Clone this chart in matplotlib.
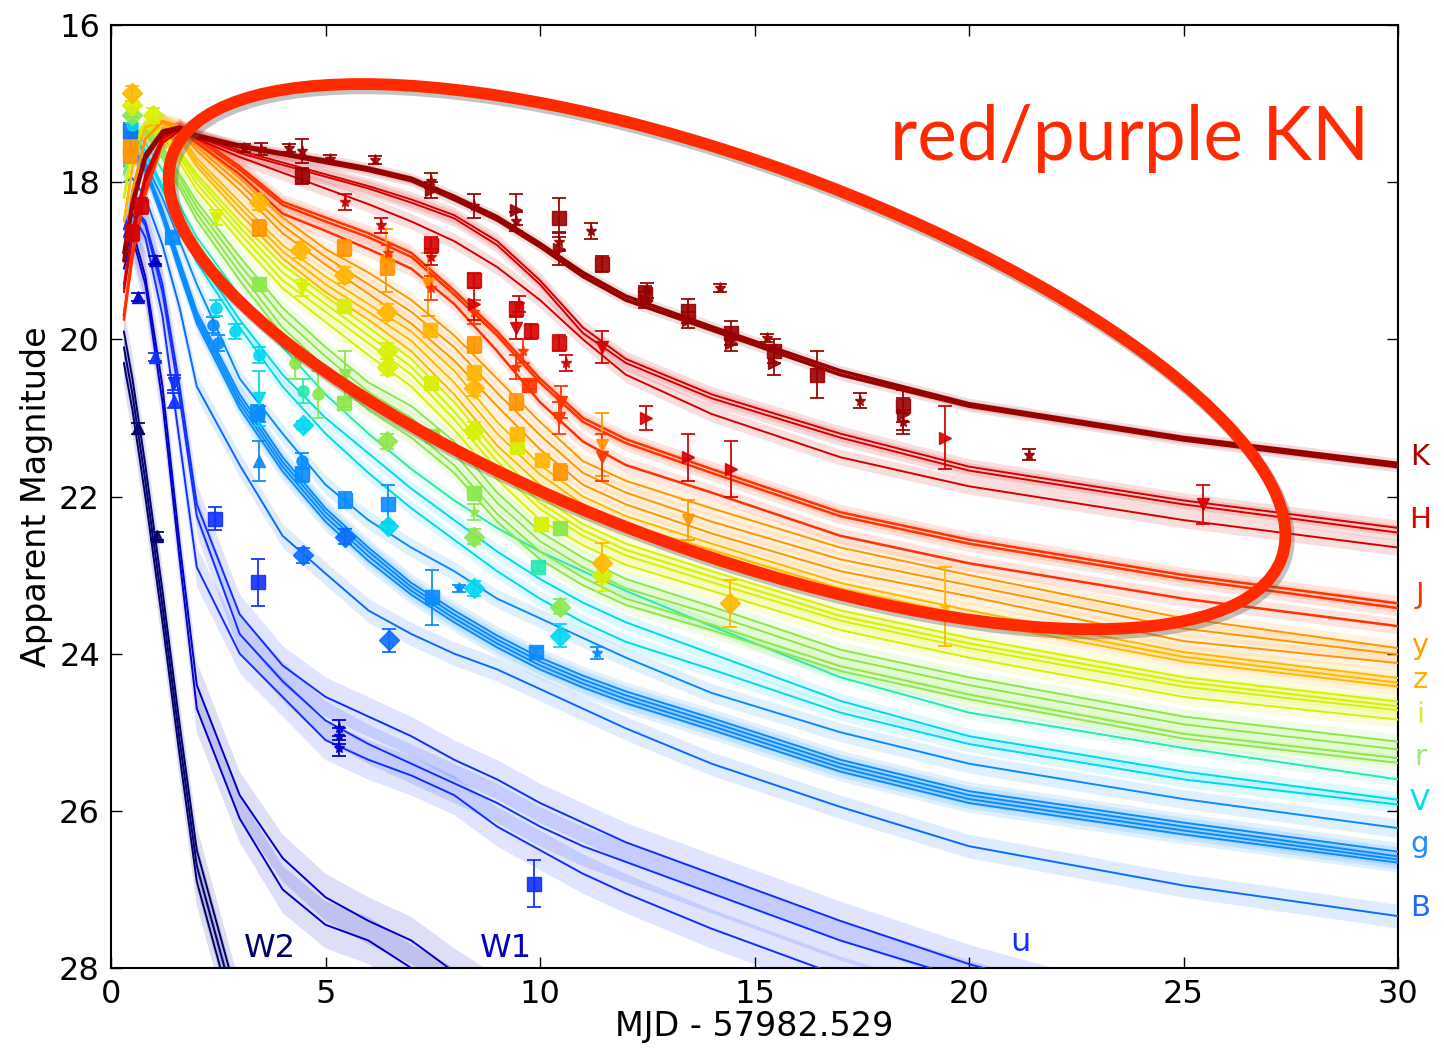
import matplotlib
matplotlib.use("Agg")
import matplotlib.pyplot as plt
import matplotlib.transforms as mtransforms
from matplotlib.patches import Ellipse
import numpy as np

# -----------------------------
# model light curves (mag at T_GRID days)
# -----------------------------
T_GRID = [0.3, 0.5, 0.8, 1.2, 1.6, 2, 3, 4, 5, 6, 7, 8, 9, 10, 11, 12, 14, 17, 20, 25, 30]

K_MODELS = [
    [19.0, 18.3, 17.7, 17.38, 17.33, 17.43, 17.55, 17.65, 17.75, 17.85, 17.98, 18.22, 18.48, 18.82, 19.2, 19.5, 19.88, 20.45, 20.85, 21.28, 21.62],
    [18.9, 18.25, 17.65, 17.35, 17.3, 17.4, 17.53, 17.63, 17.72, 17.82, 17.95, 18.18, 18.44, 18.78, 19.15, 19.45, 19.84, 20.4, 20.82, 21.25, 21.58],
]
H_MODELS = [
    [19.3, 18.6, 17.9, 17.42, 17.3, 17.4, 17.6, 17.75, 17.9, 18.05, 18.22, 18.42, 18.75, 19.25, 19.85, 20.25, 20.7, 21.2, 21.62, 22.05, 22.40],
    [19.35, 18.65, 17.95, 17.45, 17.32, 17.42, 17.63, 17.78, 17.93, 18.08, 18.26, 18.46, 18.8, 19.3, 19.92, 20.3, 20.75, 21.25, 21.67, 22.1, 22.46],
    [19.4, 18.7, 18.0, 17.5, 17.35, 17.45, 17.68, 17.88, 18.08, 18.28, 18.5, 18.75, 19.08, 19.5, 20.0, 20.45, 20.95, 21.5, 21.87, 22.3, 22.65],
]
J_MODELS = [
    [19.7, 18.9, 18.1, 17.45, 17.28, 17.42, 17.8, 18.25, 18.45, 18.65, 18.9, 19.38, 19.9, 20.5, 21.0, 21.27, 21.65, 22.2, 22.55, 23.0, 23.36],
    [19.7, 18.9, 18.12, 17.47, 17.3, 17.45, 17.84, 18.29, 18.5, 18.7, 18.95, 19.43, 19.95, 20.55, 21.05, 21.32, 21.7, 22.25, 22.6, 23.05, 23.42],
    [19.75, 18.95, 18.15, 17.5, 17.33, 17.5, 17.9, 18.4, 18.62, 18.85, 19.1, 19.55, 20.15, 20.8, 21.3, 21.6, 21.95, 22.5, 22.85, 23.3, 23.65],
]
Y_MODELS = [
    [18.9, 18.1, 17.45, 17.22, 17.28, 17.5, 17.95, 18.45, 18.85, 19.15, 19.5, 19.95, 20.5, 21.05, 21.55, 21.8, 22.15, 22.65, 23.0, 23.55, 23.93],
    [18.9, 18.1, 17.45, 17.22, 17.3, 17.55, 18.02, 18.55, 18.95, 19.3, 19.65, 20.1, 20.68, 21.22, 21.7, 21.95, 22.32, 22.8, 23.13, 23.68, 24.01],
    [18.9, 18.1, 17.45, 17.24, 17.33, 17.6, 18.1, 18.65, 19.05, 19.42, 19.8, 20.27, 20.85, 21.4, 21.85, 22.1, 22.47, 22.95, 23.27, 23.84, 24.12],
]
Z_MODELS = [
    [18.5, 17.8, 17.3, 17.22, 17.38, 17.7, 18.25, 18.8, 19.2, 19.55, 19.9, 20.4, 21.05, 21.6, 22.0, 22.25, 22.6, 23.1, 23.45, 23.98, 24.31],
    [18.5, 17.8, 17.3, 17.23, 17.42, 17.75, 18.32, 18.88, 19.3, 19.65, 20.02, 20.55, 21.2, 21.72, 22.1, 22.35, 22.68, 23.17, 23.52, 24.04, 24.37],
    [18.5, 17.8, 17.3, 17.25, 17.46, 17.8, 18.4, 18.97, 19.4, 19.75, 20.15, 20.7, 21.35, 21.85, 22.2, 22.43, 22.75, 23.23, 23.58, 24.1, 24.42],
]
I_MODELS = [
    [18.2, 17.55, 17.25, 17.35, 17.6, 17.9, 18.5, 19.05, 19.45, 19.85, 20.25, 20.8, 21.45, 22.0, 22.35, 22.6, 22.95, 23.45, 23.8, 24.3, 24.61],
    [18.2, 17.55, 17.25, 17.37, 17.63, 17.95, 18.57, 19.15, 19.55, 19.95, 20.35, 20.92, 21.55, 22.08, 22.43, 22.68, 23.02, 23.52, 23.87, 24.36, 24.67],
    [18.2, 17.55, 17.27, 17.4, 17.68, 18.02, 18.65, 19.25, 19.65, 20.05, 20.45, 21.02, 21.65, 22.16, 22.5, 22.75, 23.09, 23.58, 23.93, 24.42, 24.72],
    [18.2, 17.57, 17.3, 17.45, 17.75, 18.1, 18.75, 19.35, 19.78, 20.2, 20.6, 21.15, 21.78, 22.3, 22.62, 22.87, 23.2, 23.7, 24.05, 24.55, 24.84],
]
R_MODELS = [
    [17.9, 17.4, 17.3, 17.55, 17.9, 18.25, 18.95, 19.6, 20.1, 20.55, 20.85, 21.3, 21.95, 22.45, 22.78, 23.05, 23.4, 23.95, 24.3, 24.8, 25.12],
    [17.9, 17.4, 17.32, 17.6, 17.95, 18.32, 19.05, 19.72, 20.22, 20.67, 21.0, 21.45, 22.08, 22.57, 22.9, 23.17, 23.5, 24.05, 24.4, 24.9, 25.22],
    [17.9, 17.42, 17.35, 17.65, 18.02, 18.4, 19.15, 19.85, 20.36, 20.8, 21.15, 21.6, 22.22, 22.7, 23.03, 23.3, 23.63, 24.16, 24.52, 25.02, 25.33],
    [17.9, 17.43, 17.38, 17.7, 18.08, 18.48, 19.25, 19.95, 20.45, 20.9, 21.25, 21.7, 22.32, 22.8, 23.13, 23.38, 23.7, 24.22, 24.58, 25.08, 25.39],
]
AQ_MODELS = [
    [17.6, 17.35, 17.5, 17.85, 18.3, 18.7, 19.45, 20.1, 20.7, 21.2, 21.65, 22.05, 22.4, 22.7, 22.95, 23.2, 23.65, 24.3, 24.75, 25.2, 25.6],
]
V_MODELS = [
    [17.5, 17.4, 17.6, 18.05, 18.5, 18.95, 19.75, 20.45, 21.0, 21.45, 21.9, 22.3, 22.7, 23.05, 23.35, 23.6, 24.0, 24.6, 25.05, 25.5, 25.86],
    [17.5, 17.42, 17.65, 18.1, 18.58, 19.02, 19.85, 20.6, 21.2, 21.7, 22.15, 22.55, 22.95, 23.3, 23.6, 23.85, 24.2, 24.75, 25.15, 25.6, 25.92],
]
G_MODELS = [
    [17.8, 17.6, 17.75, 18.2, 18.75, 19.3, 20.5, 21.2, 21.85, 22.3, 22.65, 22.95, 23.3, 23.55, 23.8, 24.05, 24.5, 25.0, 25.4, 25.85, 26.22],
    [17.75, 17.6, 17.8, 18.35, 19.0, 19.65, 20.7, 21.5, 22.15, 22.65, 23.1, 23.45, 23.77, 24.05, 24.28, 24.48, 24.82, 25.35, 25.75, 26.15, 26.52],
    [17.75, 17.6, 17.82, 18.38, 19.05, 19.7, 20.76, 21.56, 22.2, 22.7, 23.15, 23.5, 23.82, 24.1, 24.33, 24.53, 24.87, 25.4, 25.8, 26.2, 26.58],
    [17.75, 17.62, 17.84, 18.42, 19.1, 19.75, 20.82, 21.62, 22.26, 22.76, 23.2, 23.55, 23.87, 24.15, 24.38, 24.58, 24.92, 25.45, 25.85, 26.25, 26.62],
    [17.76, 17.63, 17.86, 18.46, 19.15, 19.8, 20.88, 21.68, 22.32, 22.82, 23.25, 23.6, 23.92, 24.2, 24.43, 24.63, 24.97, 25.5, 25.9, 26.3, 26.66],
]
B_MODELS = [
    [18.0, 17.95, 18.2, 18.8, 19.6, 20.6, 21.6, 22.5, 22.98, 23.45, 23.75, 24.0, 24.2, 24.45, 24.7, 24.95, 25.4, 25.95, 26.45, 26.95, 27.34],
]
U_MODELS = [
    [18.6, 18.3, 18.5, 19.3, 20.6, 22.1, 23.5, 24.15, 24.55, 24.8, 25.05, 25.35, 25.6, 25.9, 26.15, 26.4, 26.8, 27.4, 27.95, 28.7, 29.4],
    [18.6, 18.3, 18.55, 19.4, 20.75, 22.25, 23.75, 24.35, 24.85, 25.15, 25.4, 25.65, 25.9, 26.2, 26.45, 26.65, 27.05, 27.65, 28.15, 28.9, 29.5],
    [18.7, 18.4, 18.7, 19.7, 21.3, 22.9, 24.0, 24.55, 25.1, 25.35, 25.55, 25.8, 26.2, 26.5, 26.8, 27.05, 27.5, 28.1, 28.6, 29.3, 29.9],
]
W1_MODELS = [
    [19.0, 18.6, 19.2, 20.6, 22.6, 24.4, 25.8, 26.6, 27.1, 27.4, 27.65, 28.05, 28.4, 28.8, 29.1, 29.4, 30.0, 30.8, 31.5, 32.5, 33.5],
    [19.1, 18.7, 19.3, 20.8, 22.8, 24.7, 26.1, 27.0, 27.45, 27.65, 28.0, 28.3, 28.6, 29.0, 29.3, 29.6, 30.2, 31.0, 31.7, 32.7, 33.7],
]
W2_MODELS = [
    [19.9, 20.5, 21.6, 23.2, 24.9, 26.5, 28.5, 30.0, 31.0, 32.0, 33.0, 34.0, 35.0, 36.0, 37.0, 38.0, 39.0, 40.0, 41.0, 42.0, 43.0],
    [20.1, 20.7, 21.8, 23.4, 25.1, 26.7, 28.7, 30.2, 31.2, 32.2, 33.2, 34.2, 35.2, 36.2, 37.2, 38.2, 39.2, 40.2, 41.2, 42.2, 43.2],
    [20.3, 20.9, 22.0, 23.6, 25.3, 26.9, 28.9, 30.4, 31.4, 32.4, 33.4, 34.4, 35.4, 36.4, 37.4, 38.4, 39.4, 40.4, 41.4, 42.4, 43.4],
]

# -----------------------------
# photometry (t, mag, err, marker)
# -----------------------------
K_T = [4.45, 10.45, 11.45, 12.45, 13.45, 14.45, 15.45, 16.45, 18.45,
       3.1, 3.5, 4.15, 4.45, 5.1, 6.15, 7.45, 8.45, 9.45, 10.45, 11.2, 12.5, 14.2, 15.3, 17.45, 18.45, 21.4,
       7.45, 9.45, 10.45, 12.45, 13.45, 14.45, 15.45, 18.45]
K_M = [17.92, 18.45, 19.04, 19.42, 19.64, 19.92, 20.15, 20.45, 20.85,
       17.57, 17.58, 17.57, 17.6, 17.7, 17.72, 17.98, 18.3, 18.5, 18.76, 18.62, 19.38, 19.35, 19.98, 20.78, 21.05, 21.47,
       18.1, 18.35, 18.85, 19.5, 19.75, 20.05, 20.3, 20.95]
K_E = [0.1, 0.25, 0.1, 0.1, 0.15, 0.15, 0.15, 0.3, 0.2,
       0.05, 0.08, 0.05, 0.15, 0.05, 0.05, 0.1, 0.15, 0.12, 0.12, 0.1, 0.1, 0.05, 0.05, 0.1, 0.15, 0.07,
       0.1, 0.2, 0.2, 0.1, 0.1, 0.1, 0.15, 0.2]
K_MK = ["s"] * 9 + ["*"] * 17 + [">"] * 8

H_T = [0.5, 7.45, 8.45, 9.45, 9.8, 10.45, 8.45, 12.47, 13.45, 14.45, 19.45, 9.45, 11.45, 25.45, 5.45, 6.3, 7.45, 9.5, 10.6, 0.7]
H_M = [18.65, 18.8, 19.25, 19.62, 19.9, 20.05, 19.55, 21.0, 21.5, 21.65, 21.25, 19.85, 20.1, 22.1, 18.25, 18.55, 18.95, 19.55, 20.3, 18.3]
H_E = [0.1, 0.1, 0.1, 0.1, 0.1, 0.1, 0.2, 0.15, 0.3, 0.35, 0.4, 0.15, 0.2, 0.25, 0.1, 0.1, 0.1, 0.1, 0.1, 0.1]
H_MK = ["s"] * 6 + [">"] * 5 + ["v"] * 3 + ["*"] * 5 + ["s"]

J_T = [9.75, 6.45, 7.45, 8.45, 9.45, 10.45, 10.5, 11.45, 9.6]
J_M = [20.58, 18.9, 19.35, 19.65, 20.35, 21.0, 20.8, 21.5, 20.15]
J_E = [0.05, 0.1, 0.15, 0.15, 0.15, 0.2, 0.2, 0.3, 0.15]
J_MK = ["s", "*", "*", "*", "*", "v", "v", "v", "*"]

Y_T = [3.45, 5.42, 6.43, 8.45, 9.44, 10.47, 6.4, 7.4, 11.45, 13.45, 0.45, 0.45]
Y_M = [18.58, 18.84, 19.08, 20.07, 20.8, 21.69, 19.0, 19.3, 21.34, 22.3, 17.55, 17.65]
Y_E = [0.1, 0.1, 0.1, 0.1, 0.1, 0.1, 0.4, 0.4, 0.4, 0.25, 0.1, 0.1]
Y_MK = ["s"] * 6 + ["v"] * 4 + ["s", "s"]

Z_T = [7.44, 8.45, 9.46, 10.05, 0.49, 4.41, 5.42, 6.43, 8.45, 11.45, 14.43, 19.45, 3.45]
Z_M = [19.88, 20.41, 21.2, 21.54, 16.87, 18.86, 19.18, 19.65, 20.62, 22.84, 23.36, 23.4, 18.25]
Z_E = [0.05, 0.05, 0.05, 0.05, 0.1, 0.1, 0.1, 0.1, 0.1, 0.25, 0.3, 0.5, 0.1]
Z_MK = ["s"] * 4 + ["D"] * 7 + ["*", "D"]

I_T = [5.42, 7.45, 9.46, 10.03, 0.49, 0.98, 6.43, 6.43, 8.45, 11.45, 2.45, 4.45]
I_M = [19.58, 20.56, 21.37, 22.35, 17.02, 17.15, 20.15, 20.35, 21.15, 23.0, 18.45, 19.35]
I_E = [0.05, 0.05, 0.05, 0.05, 0.1, 0.1, 0.1, 0.1, 0.1, 0.2, 0.1, 0.1]
I_MK = ["s"] * 4 + ["D"] * 6 + ["v", "v"]

R_T = [3.45, 5.44, 7.48, 8.47, 10.47, 0.49, 6.43, 8.47, 10.47, 4.83, 4.3, 5.45, 8.45]
R_M = [19.3, 20.81, 21.23, 21.96, 22.4, 17.15, 21.3, 22.51, 23.4, 20.7, 20.3, 20.45, 22.2]
R_E = [0.05, 0.05, 0.05, 0.05, 0.05, 0.1, 0.1, 0.1, 0.1, 0.3, 0.2, 0.3, 0.1]
R_MK = ["s"] * 5 + ["D"] * 4 + ["o", "o", "v", "*"]

AQ_T = [9.96, 4.47]
AQ_M = [22.9, 20.66]
AQ_E = [0.05, 0.15]
AQ_MK = ["s", "o"]

V_T = [0.49, 2.9, 3.45, 4.48, 6.46, 8.47, 10.47, 3.45, 2.45]
V_M = [17.27, 19.9, 20.2, 21.09, 22.38, 23.17, 23.77, 20.75, 19.6]
V_E = [0.1, 0.1, 0.1, 0.05, 0.05, 0.1, 0.15, 0.35, 0.1]
V_MK = ["o", "o", "o", "D", "D", "D", "D", "v", "o"]

G_T = [1.42, 3.4, 4.45, 5.45, 6.46, 7.48, 9.9, 2.38, 2.5, 3.45, 4.45, 8.11, 11.33, 3.45]
G_M = [18.7, 20.94, 21.72, 22.04, 22.1, 23.28, 23.98, 19.82, 20.05, 20.95, 21.55, 23.17, 23.99, 21.55]
G_E = [0.05, 0.1, 0.1, 0.1, 0.25, 0.35, 0.05, 0.1, 0.1, 0.1, 0.1, 0.05, 0.08, 0.25]
G_MK = ["s"] * 7 + ["o"] * 4 + ["*", "*", "^"]

B_T = [4.48, 5.45, 6.48, 0.45]
B_M = [22.75, 22.51, 23.83, 17.35]
B_E = [0.1, 0.1, 0.15, 0.1]
B_MK = ["D", "D", "D", "s"]

U_T = [2.42, 3.43, 9.85, 1.03, 1.47, 1.47]
U_M = [22.28, 23.09, 26.93, 20.22, 20.78, 20.55]
U_E = [0.15, 0.3, 0.3, 0.05, 0.1, 0.1]
U_MK = ["s", "s", "s", "^", "^", "v"]

W1_T = [5.32, 5.32, 5.32, 0.63, 1.03]
W1_M = [24.95, 25.05, 25.2, 19.46, 18.99]
W1_E = [0.1, 0.1, 0.1, 0.05, 0.05]
W1_MK = ["*", "*", "*", "^", "^"]

W2_T = [0.63, 1.07]
W2_M = [21.13, 22.5]
W2_E = [0.07, 0.05]
W2_MK = ["^", "^"]

BAND_NAMES = ["W2", "W1", "u", "B", "g", "V", "aq", "r", "i", "z", "y", "J", "H", "K"]
LABEL_Y = {"K": 21.5, "H": 22.3, "J": 23.25, "y": 23.9, "z": 24.33, "i": 24.78,
           "r": 25.31, "V": 25.89, "g": 26.42, "B": 27.24}

# -----------------------------
# styles
# -----------------------------
COLORS = {"K": "#990000", "H": "#d40000", "J": "#ff3300", "y": "#ff9500", "z": "#ffb700",
          "i": "#d8f000", "r": "#8ce84a", "aq": "#2ae8b0", "V": "#00d8f0", "g": "#0a8cff",
          "B": "#0a6cff", "u": "#1030ff", "W1": "#0000c8", "W2": "#00006e"}
LABEL_COLORS = {"K": "#aa0000", "H": "#e00000", "J": "#ff3300", "y": "#ff9f00", "z": "#ffb000",
                "i": "#ddee22", "r": "#99e87a", "V": "#00dcf0", "g": "#1e8cff", "B": "#1a6cff"}
SHADE = {"K": 0.07, "H": 0.1, "J": 0.1, "y": 0.1, "z": 0.1, "i": 0.1, "r": 0.1, "aq": 0.08,
         "V": 0.1, "g": 0.12, "B": 0.15, "u": 0.25, "W1": 0.3, "W2": 0.3}
LW = {"K": 2.6, "J": 1.8}

models = {"K": K_MODELS, "H": H_MODELS, "J": J_MODELS, "y": Y_MODELS, "z": Z_MODELS,
          "i": I_MODELS, "r": R_MODELS, "aq": AQ_MODELS, "V": V_MODELS, "g": G_MODELS,
          "B": B_MODELS, "u": U_MODELS, "W1": W1_MODELS, "W2": W2_MODELS}
phot = {"K": (K_T, K_M, K_E, K_MK), "H": (H_T, H_M, H_E, H_MK), "J": (J_T, J_M, J_E, J_MK),
        "y": (Y_T, Y_M, Y_E, Y_MK), "z": (Z_T, Z_M, Z_E, Z_MK), "i": (I_T, I_M, I_E, I_MK),
        "r": (R_T, R_M, R_E, R_MK), "aq": (AQ_T, AQ_M, AQ_E, AQ_MK), "V": (V_T, V_M, V_E, V_MK),
        "g": (G_T, G_M, G_E, G_MK), "B": (B_T, B_M, B_E, B_MK), "u": (U_T, U_M, U_E, U_MK),
        "W1": (W1_T, W1_M, W1_E, W1_MK), "W2": (W2_T, W2_M, W2_E, W2_MK)}

fig = plt.figure(figsize=(14.44, 10.49), dpi=100)
ax = fig.add_axes([111 / 1444, 1 - 968 / 1049, (1398 - 111) / 1444, (968 - 25) / 1049])

t = np.array(T_GRID)
# shaded ranges first, then lines
for b in BAND_NAMES:
    for m in models[b]:
        m = np.array(m)
        ax.fill_between(t, m - SHADE[b], m + SHADE[b], color=COLORS[b], alpha=0.13, lw=0)
for b in BAND_NAMES:
    for m in models[b]:
        ax.plot(t, m, color=COLORS[b], lw=LW.get(b, 1.4), solid_capstyle="round", zorder=3)

# data points
for b in BAND_NAMES:
    tt, mm, ee, mk = phot[b]
    for marker in sorted(set(mk)):
        idx = [k for k in range(len(mk)) if mk[k] == marker]
        ms = 10 if marker in ("s", "D") else 8
        ax.errorbar([tt[k] for k in idx], [mm[k] for k in idx], yerr=[ee[k] for k in idx],
                    fmt=marker, color=COLORS[b], ms=ms, mec=COLORS[b], elinewidth=1.4,
                    capsize=5, capthick=1.4, alpha=0.9, zorder=4)

ax.set_xlim(0, 30)
ax.set_ylim(28, 16)
ax.set_xticks([0, 5, 10, 15, 20, 25, 30])
ax.set_yticks([16, 18, 20, 22, 24, 26, 28])
ax.tick_params(direction="in", length=8, width=1, top=True, right=True, labelsize=23, pad=8)
for s in ax.spines.values():
    s.set_linewidth(1.5)
ax.set_xlabel("MJD - 57982.529", fontsize=24, labelpad=0)
ax.set_ylabel("Apparent Magnitude", fontsize=24, labelpad=4)

# band labels on the right
for b, yv in LABEL_Y.items():
    ax.text(1.017, yv, b, color=LABEL_COLORS[b], fontsize=21, ha="center", va="center",
            transform=mtransforms.blended_transform_factory(ax.transAxes, ax.transData))
ax.text(3.7, 27.75, "W2", color=COLORS["W2"], fontsize=23, ha="center", va="center")
ax.text(9.2, 27.75, "W1", color=COLORS["W1"], fontsize=23, ha="center", va="center")
ax.text(21.2, 27.68, "u", color=COLORS["u"], fontsize=23, ha="center", va="center")

# highlight ellipse around the red/purple component
fig.canvas.draw()
cx, cy = ax.transData.transform((14.36, 20.22))
ident = mtransforms.IdentityTransform()
shadow = Ellipse((cx + 3, cy - 4), 1180, 390, angle=-20, fill=False, ec="#555555",
                 lw=9, alpha=0.35, transform=ident, zorder=5)
ring = Ellipse((cx, cy), 1180, 390, angle=-20, fill=False, ec="#ff2a00",
               lw=8.5, transform=ident, zorder=6)
fig.add_artist(shadow)
fig.add_artist(ring)
ax.text(0.978, (968 - 160) / 943, "red/purple KN", transform=ax.transAxes, ha="right",
        va="baseline", fontsize=54, color="#ff2a00", family=["Lato", "DejaVu Sans"], zorder=7)

fig.savefig("out.png", dpi=100)
